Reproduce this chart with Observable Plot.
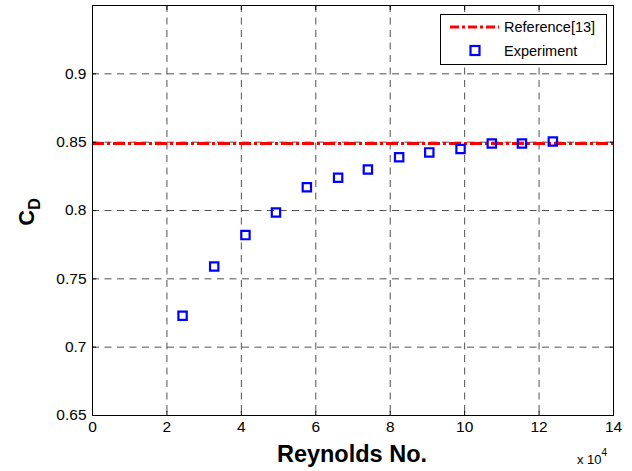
<!DOCTYPE html>
<html>
<head>
<meta charset="utf-8">
<script src="https://cdn.jsdelivr.net/npm/d3@7"></script>
<script src="https://cdn.jsdelivr.net/npm/@observablehq/plot@0.6"></script>
<style>
  html, body { margin: 0; padding: 0; background: #fff; }
  svg { font-family: "Liberation Sans", Arial, sans-serif; }
</style>
</head>
<body>
<div id="chart"></div>
<script>
// Reynolds number (x 10^4) and drag coefficient
const reynolds = [2.42, 3.27, 4.11, 4.93, 5.76, 6.60, 7.40, 8.24, 9.05, 9.89, 10.73, 11.54, 12.37];
const cd = [0.723, 0.759, 0.782, 0.7985, 0.817, 0.824, 0.830, 0.839, 0.8425, 0.845, 0.849, 0.849, 0.8505];
const referenceCd = 0.849;
const xTicks = [0, 2, 4, 6, 8, 10, 12, 14];
const yTicks = [0.65, 0.7, 0.75, 0.8, 0.85, 0.9];
const gridX = [2, 4, 6, 8, 10, 12];
const gridY = [0.7, 0.75, 0.8, 0.85, 0.9];

const data = reynolds.map((r, i) => ({r, cd: cd[i]}));

const W = 632, H = 471;
const chart = Plot.plot({
  width: W,
  height: H,
  marginLeft: 92,
  marginRight: 19,
  marginTop: 5,
  marginBottom: 56,
  style: {fontFamily: "Liberation Sans, Arial, sans-serif", fontSize: "15px", color: "#000", background: "#fff"},
  x: {domain: [0, 14]},
  y: {domain: [0.65, 0.95]},
  marks: [
    Plot.ruleX(gridX, {stroke: "#333", strokeWidth: 1, strokeDasharray: "7,5.5", strokeOpacity: 0.85}),
    Plot.ruleY(gridY, {stroke: "#333", strokeWidth: 1, strokeDasharray: "7,5.5", strokeOpacity: 0.85}),
    Plot.ruleY([referenceCd], {stroke: "#ff0000", strokeWidth: 3, strokeDasharray: "12,3,3,3"}),
    Plot.dot(data, {x: "r", y: "cd", symbol: "square", r: 4.7, stroke: "#0000ff", strokeWidth: 2.2, fill: "none"}),
    Plot.axisX({ticks: xTicks, tickSize: -4, tickPadding: 9, tickFormat: d => d3.format("")(d), label: null, fontSize: 15.5}),
    Plot.axisX({ticks: xTicks, anchor: "top", tickSize: -4, tickFormat: () => "", label: null}),
    Plot.axisY({ticks: yTicks, tickSize: -4, tickPadding: 10, tickFormat: d => String(d), label: null, fontSize: 15.5}),
    Plot.axisY({ticks: yTicks, anchor: "right", tickSize: -4, tickFormat: () => "", label: null}),
    Plot.frame({stroke: "#000", strokeWidth: 1})
  ]
});
document.getElementById("chart").appendChild(chart);

const svg = d3.select(chart);
svg.attr("font-family", "Liberation Sans, Arial, sans-serif");
svg.selectAll("g[aria-label$='tick label'] text").attr("font-size", 15.5).style("font-size", "15.5px");

// Axis titles
svg.append("text")
  .attr("x", 352).attr("y", 462)
  .attr("text-anchor", "middle")
  .attr("font-size", 23.5).attr("font-weight", "bold").attr("fill", "#000")
  .text("Reynolds No.");

const xm = svg.append("text")
  .attr("x", 577).attr("y", 464)
  .attr("text-anchor", "start")
  .attr("font-size", 13).attr("fill", "#000");
xm.append("tspan").text("x 10");
xm.append("tspan").attr("dy", -8).attr("font-size", 10).text("4");

const yl = svg.append("text")
  .attr("transform", "translate(34,212) rotate(-90)")
  .attr("text-anchor", "middle")
  .attr("font-weight", "bold").attr("fill", "#000");
yl.append("tspan").attr("font-size", 22).text("C");
yl.append("tspan").attr("font-size", 16).attr("dy", 6).text("D");

// Legend
const lg = svg.append("g").attr("text-anchor", "start");
lg.append("rect").attr("x", 440.5).attr("y", 14.5).attr("width", 166).attr("height", 50)
  .attr("fill", "#fff").attr("stroke", "#000").attr("stroke-width", 1);
lg.append("line").attr("x1", 450).attr("x2", 499).attr("y1", 27).attr("y2", 27)
  .attr("stroke", "#ff0000").attr("stroke-width", 3).attr("stroke-dasharray", "9,3,3,3");
lg.append("text").attr("x", 504).attr("y", 32).attr("font-size", 14.5).attr("fill", "#000").text("Reference[13]");
lg.append("rect").attr("x", 470.5).attr("y", 46).attr("width", 9).attr("height", 9)
  .attr("fill", "none").attr("stroke", "#0000ff").attr("stroke-width", 2.2);
lg.append("text").attr("x", 504).attr("y", 56).attr("font-size", 14.5).attr("fill", "#000").text("Experiment");
</script>
</body>
</html>
